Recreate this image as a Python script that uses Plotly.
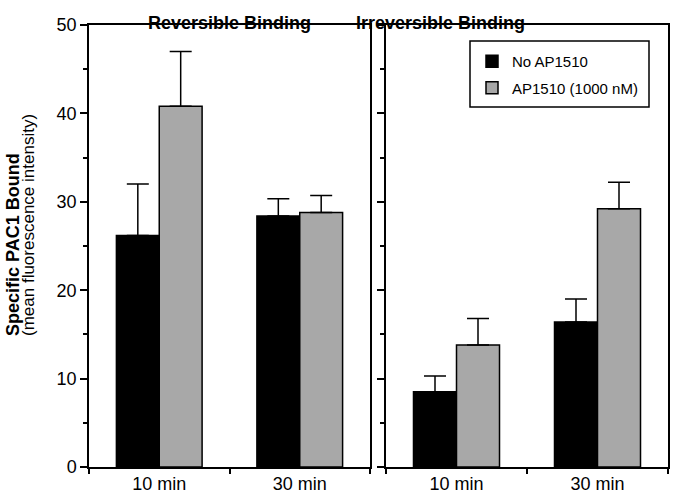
import plotly.graph_objects as go

categories = ["10 min", "30 min"]
series_names = ["No AP1510", "AP1510 (1000 nM)"]
panel_titles = ["Reversible Binding", "Irreversible Binding"]

rev_no = [26.2, 28.4]
rev_no_err = [5.8, 1.95]
rev_ap = [40.8, 28.8]
rev_ap_err = [6.2, 1.9]

irr_no = [8.5, 16.4]
irr_no_err = [1.8, 2.6]
irr_ap = [13.8, 29.2]
irr_ap_err = [3.0, 3.0]

y_title_1 = "Specific PAC1 Bound"
y_title_2 = "(mean fluorescence intensity)"

FONT = "Liberation Sans, Arial, Helvetica, sans-serif"
BLACK = "#000000"
GRAY = "#a8a8a8"

W, H = 676, 499
xd1 = [89 / W, 370 / W]
xd2 = [386 / W, 668 / W]
yd = [(H - 467) / H, (H - 25) / H]

fig = go.Figure()


def add_bar(x, y, err, name, color, xa, ya, show):
    fig.add_trace(go.Bar(
        x=x, y=y, name=name, xaxis=xa, yaxis=ya,
        marker=dict(color=color, line=dict(color=BLACK, width=1.5)),
        error_y=dict(type="data", symmetric=False, array=err,
                     arrayminus=[0] * len(err), color=BLACK,
                     thickness=1.5, width=11),
        showlegend=show, legendgroup=name,
    ))


add_bar(categories, rev_no, rev_no_err, series_names[0], BLACK, "x", "y", True)
add_bar(categories, rev_ap, rev_ap_err, series_names[1], GRAY, "x", "y", True)
add_bar(categories, irr_no, irr_no_err, series_names[0], BLACK, "x2", "y2", False)
add_bar(categories, irr_ap, irr_ap_err, series_names[1], GRAY, "x2", "y2", False)

xcommon = dict(
    type="category", range=[-0.5, 1.5], showline=True, linecolor=BLACK,
    linewidth=1.5, mirror=True, ticks="outside", tickson="boundaries",
    ticklen=5, tickwidth=1.5, tickcolor=BLACK,
    tickfont=dict(family=FONT, size=18, color=BLACK), showgrid=False,
    zeroline=False, fixedrange=True, automargin=False,
)
ycommon = dict(
    range=[0, 50], tickvals=[0, 10, 20, 30, 40, 50], showline=True,
    linecolor=BLACK, linewidth=1.5, mirror=True, ticks="outside",
    ticklen=7, tickwidth=1.5, tickcolor=BLACK,
    minor=dict(ticks="outside", tickvals=[5, 15, 25, 35, 45], ticklen=4,
               tickwidth=1.5, tickcolor=BLACK),
    tickfont=dict(family=FONT, size=18, color=BLACK), showgrid=False,
    zeroline=False, fixedrange=True, domain=yd, automargin=False,
)

fig.update_layout(
    width=W, height=H,
    margin=dict(l=0, r=0, t=0, b=0, pad=0, autoexpand=False),
    paper_bgcolor="white", plot_bgcolor="white",
    barmode="group", bargap=0.39, bargroupgap=0,
    font=dict(family=FONT, color=BLACK),
    xaxis=dict(xcommon, domain=xd1, anchor="y"),
    xaxis2=dict(xcommon, domain=xd2, anchor="y2"),
    yaxis=dict(ycommon, anchor="x"),
    yaxis2=dict(ycommon, anchor="x2", showticklabels=False),
    legend=dict(
        x=472 / W, y=1 - 45 / H, xanchor="left", yanchor="top",
        borderwidth=0, bgcolor="rgba(0,0,0,0)",
        font=dict(family=FONT, size=15, color=BLACK),
        tracegroupgap=4,
    ),
    showlegend=True,
    shapes=[dict(type="rect", xref="paper", yref="paper",
                 x0=470 / W, x1=649 / W, y0=1 - 107 / H, y1=1 - 41 / H,
                 line=dict(color=BLACK, width=1.5), fillcolor="white",
                 layer="below")],
)

annotations = [
    dict(text="<b>" + panel_titles[0] + "</b>", x=sum(xd1) / 2, y=1 - 11 / H,
         xref="paper", yref="paper", showarrow=False,
         font=dict(family=FONT, size=18, color=BLACK)),
    dict(text="<b>" + panel_titles[1] + "</b>", x=sum(xd2) / 2, y=1 - 11 / H,
         xref="paper", yref="paper", showarrow=False,
         font=dict(family=FONT, size=18, color=BLACK)),
    dict(text="<b>" + y_title_1 + "</b>", x=12.5 / W, y=1 - 338 / H,
         xref="paper", yref="paper", showarrow=False, textangle=-90,
         xanchor="center", yanchor="bottom",
         font=dict(family=FONT, size=18, color=BLACK)),
    dict(text=y_title_2, x=28 / W, y=1 - 338 / H,
         xref="paper", yref="paper", showarrow=False, textangle=-90,
         xanchor="center", yanchor="bottom",
         font=dict(family=FONT, size=17, color=BLACK)),
]
fig.update_layout(annotations=annotations)

fig.write_html(
    "out.html",
    config={"displayModeBar": False},
    post_script="document.body.style.margin='0';document.body.style.padding='0';",
)
